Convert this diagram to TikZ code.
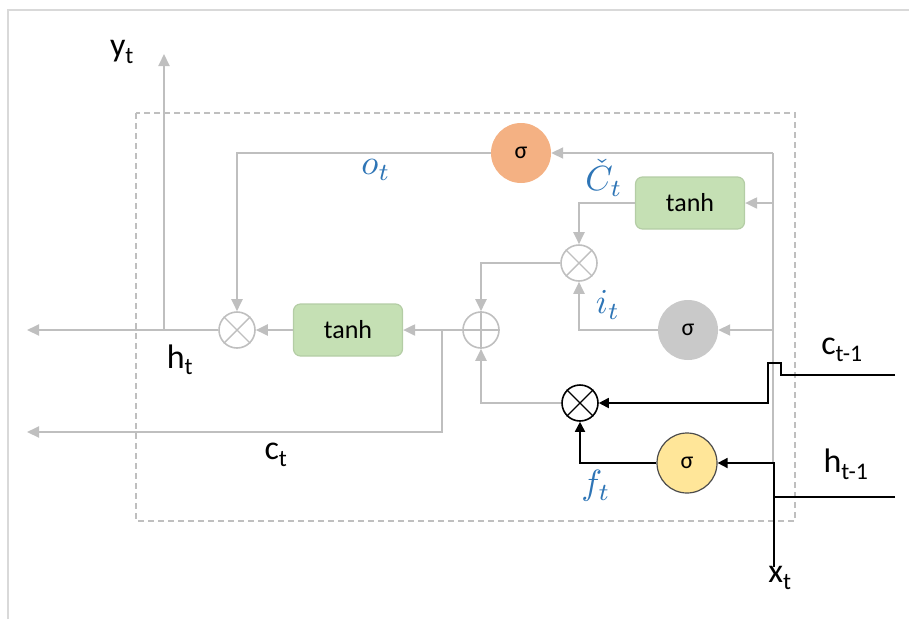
\documentclass[tikz,border=0pt]{standalone}
\usepackage{fontspec}
\setmainfont{Carlito}
\usetikzlibrary{arrows.meta}

\definecolor{linegray}{HTML}{BFBFBF}
\definecolor{framegray}{HTML}{D9D9D9}
\definecolor{tanhgreen}{HTML}{C5E0B4}
\definecolor{tanhedge}{HTML}{B4CDA5}
\definecolor{sigorange}{HTML}{F4B183}
\definecolor{siggray}{HTML}{C9C9C9}
\definecolor{sigyellow}{HTML}{FFE699}
\definecolor{labblue}{HTML}{2E75B6}

\newcommand{\lstmsub}[2]{#1\textsubscript{#2}}
\newcommand{\gatelab}[1]{\scalebox{3.5}{$#1$}}

\begin{document}
\begin{tikzpicture}[
        x=1pt,
        y=-1pt,
        gline/.style={linegray, line width=2pt},
        flow/.style={gline, -{Triangle[length=12pt, width=11pt]}},
        bline/.style={black, line width=1.8pt},
        bflow/.style={bline, -{Triangle[length=10pt, width=10pt]}},
        gatesig/.style={circle, minimum size=60pt, inner sep=0pt, font=\fontsize{24}{26}\selectfont},
        opnode/.style={circle, draw=linegray, line width=1.6pt, minimum size=36pt, inner sep=0pt},
        tanhbox/.style={rounded corners=7pt, draw=tanhedge, line width=1.2pt, fill=tanhgreen,
            minimum width=109pt, minimum height=52pt, font=\fontsize{26}{28}\selectfont},
        sanslab/.style={font=\fontsize{34}{36}\selectfont},
        mathlab/.style={text=labblue, inner sep=1pt}
    ]
        \useasboundingbox (0,0) rectangle (909,619);

        % frame and cell box
        \draw[framegray, line width=1.5pt] (8,619) -- (8,10) -- (909,10);
        \draw[linegray, line width=1.4pt, dash pattern=on 6pt off 4pt] (136,113) rectangle (795,521);

        % gates and operators
        \node[gatesig, fill=sigorange] (sigo) at (521,153) {σ};
        \node[gatesig, fill=siggray] (sigi) at (688,330) {σ};
        \node[gatesig, fill=sigyellow, draw=black!70, line width=1.2pt] (sigf) at (687,463) {σ};
        \node[tanhbox] (tanhc) at (690,203) {tanh};
        \node[tanhbox] (tanhh) at (348,330) {tanh};

        \node[opnode] (muli) at (579,263) {};
        \node[opnode] (addc) at (481,330) {};
        \node[opnode] (mulh) at (237,330) {};
        \node[opnode, draw=black] (mulf) at (580,403) {};
        \foreach \m in {muli,mulh} {
            \draw[linegray, line width=1.4pt] (\m.north east) -- (\m.south west);
            \draw[linegray, line width=1.4pt] (\m.north west) -- (\m.south east);
        }
        \draw[black, line width=1.2pt] (mulf.north east) -- (mulf.south west);
        \draw[black, line width=1.2pt] (mulf.north west) -- (mulf.south east);
        \draw[linegray, line width=1.4pt] (addc.north) -- (addc.south);
        \draw[linegray, line width=1.4pt] (addc.west) -- (addc.east);

        % free ends
        \coordinate (jtop) at (773,153);
        \coordinate (jbot) at (773,463);
        \coordinate (cbr) at (442,330);
        \coordinate (cout) at (27,432);
        \coordinate (hout) at (27,330);
        \coordinate (ybr) at (164,330);
        \coordinate (yout) at (164,54);
        \coordinate (xin) at (774,567);
        \coordinate (hin) at (895,497);
        \coordinate (cin) at (895,375);

        % gray flows
        \draw[gline] (jtop) -- (jbot);
        \draw[flow] (jtop) -- (sigo.east);
        \draw[flow] (jtop |- tanhc.east) -- (tanhc.east);
        \draw[flow] (jtop |- sigi.east) -- (sigi.east);
        \draw[flow] (sigo.west) -| (mulh.north);
        \draw[flow] (tanhc.west) -| (muli.north);
        \draw[flow] (sigi.west) -| (muli.south);
        \draw[flow] (muli.west) -| (addc.north);
        \draw[flow] (mulf.west) -| (addc.south);
        \draw[flow] (addc.west) -- (tanhh.east);
        \draw[flow] (cbr) |- (cout);
        \draw[flow] (tanhh.west) -- (mulh.east);
        \draw[flow] (mulh.west) -- (hout);
        \draw[flow] (ybr) -- (yout);

        % black inputs
        \draw[bflow] (xin) |- (sigf.east);
        \draw[bline] (hin) -- (xin |- hin);
        \draw[bflow] (sigf.west) -| (mulf.south);
        \draw[bflow] (cin) -- ++(-114,0) -- ++(0,-12) -- ++(-13,0) |- (mulf.east);

        % labels
        \node[sanslab] (lbly) at (122,52) {\lstmsub{y}{t}};
        \node[sanslab] (lblh) at (180,360) {\lstmsub{h}{t}};
        \node[sanslab] (lblc) at (276,455) {\lstmsub{c}{t}};
        \node[sanslab] (lblcp) at (842,350) {\lstmsub{c}{t-1}};
        \node[sanslab] (lblhp) at (846,464) {\lstmsub{h}{t-1}};
        \node[sanslab] (lblx) at (780,578) {\lstmsub{x}{t}};
        \node[mathlab] (lblo) at (376,170) {\gatelab{o_t}};
        \node[mathlab] (lblC) at (604,178) {\gatelab{\check{C}_t}};
        \node[mathlab] (lbli) at (608,305) {\gatelab{i_t}};
        \node[mathlab] (lblf) at (596,486) {\gatelab{f_t}};
    \end{tikzpicture}
\end{document}
